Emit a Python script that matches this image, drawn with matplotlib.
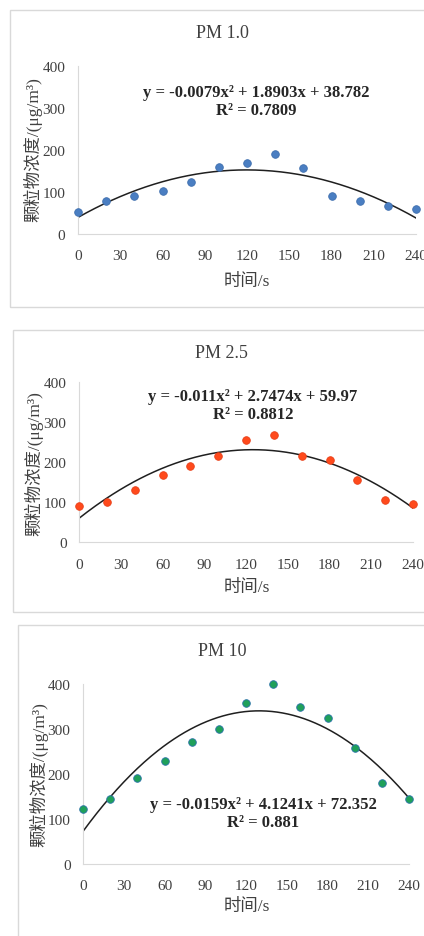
import matplotlib
matplotlib.use('Agg')
import matplotlib.pyplot as plt
from matplotlib.patches import Rectangle
import numpy as np

plt.rcParams['font.family'] = ['Liberation Serif', 'Noto Sans CJK SC', 'DejaVu Sans']

# time points (s)
time_s = [0, 20, 40, 60, 80, 100, 120, 140, 160, 180, 200, 220, 240]

# particle concentration
pm1 = [51, 79, 90, 102, 124, 160, 169, 190, 157, 90, 77, 67, 59]
pm25 = [90, 102, 132, 168, 190, 217, 257, 268, 217, 207, 156, 107, 97]
pm10 = [122, 144, 191, 228, 270, 300, 358, 400, 348, 323, 258, 180, 144]

# trendline coefficients shown on the chart (x^2, x, 1)
fit1 = [-0.0079, 1.8903, 38.782]
fit25 = [-0.011, 2.7474, 59.97]
fit10 = [-0.0159, 4.1241, 72.352]

titles = ['PM 1.0', 'PM 2.5', 'PM 10']
eq_texts = ['y = -0.0079x² + 1.8903x + 38.782\nR² = 0.7809',
            'y = -0.011x² + 2.7474x + 59.97\nR² = 0.8812',
            'y = -0.0159x² + 4.1241x + 72.352\nR² = 0.881']
colors = ['#4a7ec2', '#ff4a1c', '#1fa05a']
edges = ['#3f6fae', '#e8401a', '#2a72a8']

xticks = [0, 30, 60, 90, 120, 150, 180, 210, 240]
yticks = [0, 100, 200, 300, 400]

W, H = 424, 937
fig = plt.figure(figsize=(W / 100, H / 100), dpi=100)

def fx(px):
    return px / W

def fy(py):
    return 1 - py / H

# panel frames (left, top, bottom) in pixels
frames = [(10, 11, 308), (13, 331, 613), (18, 626, 950)]
for l, t, b in frames:
    fig.patches.append(Rectangle((fx(l), fy(b)), fx(W + 20 - l), (b - t) / H,
                                 transform=fig.transFigure, fill=False,
                                 edgecolor='#d9d9d9', linewidth=1))

# axes boxes: left, right, top, bottom in pixels
boxes = [(78, 416, 66.7, 234.7), (79, 413, 383.3, 543.3), (83, 409, 684.7, 865)]
title_pos = [(222, 33), (221, 353), (222, 651)]
eq_pos = [(256, 102), (253, 406), (263, 814)]
ylab_pos = [(33, 150), (34, 464), (39, 775)]
xlab_pos = [(247, 282), (247, 588), (247, 907)]

series = [pm1, pm25, pm10]
fits = [fit1, fit25, fit10]
xx = np.linspace(0, 240, 241)

for i in range(3):
    l, r, t, b = boxes[i]
    ax = fig.add_axes([fx(l), fy(b), (r - l) / W, (b - t) / H])
    ax.plot(xx, np.polyval(fits[i], xx), color='#1f1f1f', linewidth=1.1, zorder=2)
    ax.scatter(time_s, series[i], s=30, color=colors[i], edgecolors=edges[i],
               linewidths=0.6, zorder=3, clip_on=False)
    ax.set_xlim(0, 240)
    ax.set_ylim(0, 400)
    ax.set_xticks(xticks)
    ax.set_yticks(yticks)
    ax.tick_params(length=0, labelsize=11, labelcolor='#404040')
    ax.tick_params(axis='x', pad=11)
    ax.tick_params(axis='y', pad=9)
    for s in ['top', 'right']:
        ax.spines[s].set_visible(False)
    for s in ['left', 'bottom']:
        ax.spines[s].set_color('#d9d9d9')
    ax.patch.set_alpha(0)

    fig.text(fx(title_pos[i][0]), fy(title_pos[i][1]), titles[i], ha='center',
             va='center', fontsize=13, color='#404040')
    fig.text(fx(eq_pos[i][0]), fy(eq_pos[i][1]), eq_texts[i], ha='center',
             va='center', fontsize=12, fontweight='bold', color='#262626',
             linespacing=1.2)
    fig.text(fx(ylab_pos[i][0]), fy(ylab_pos[i][1]), '颗粒物浓度/(μg/m³)',
             rotation=90, ha='center', va='center', fontsize=12.5, color='#404040')
    fig.text(fx(xlab_pos[i][0]), fy(xlab_pos[i][1]), '时间/s', ha='center',
             va='center', fontsize=12.5, color='#404040')

fig.savefig('out.png', dpi=100)
